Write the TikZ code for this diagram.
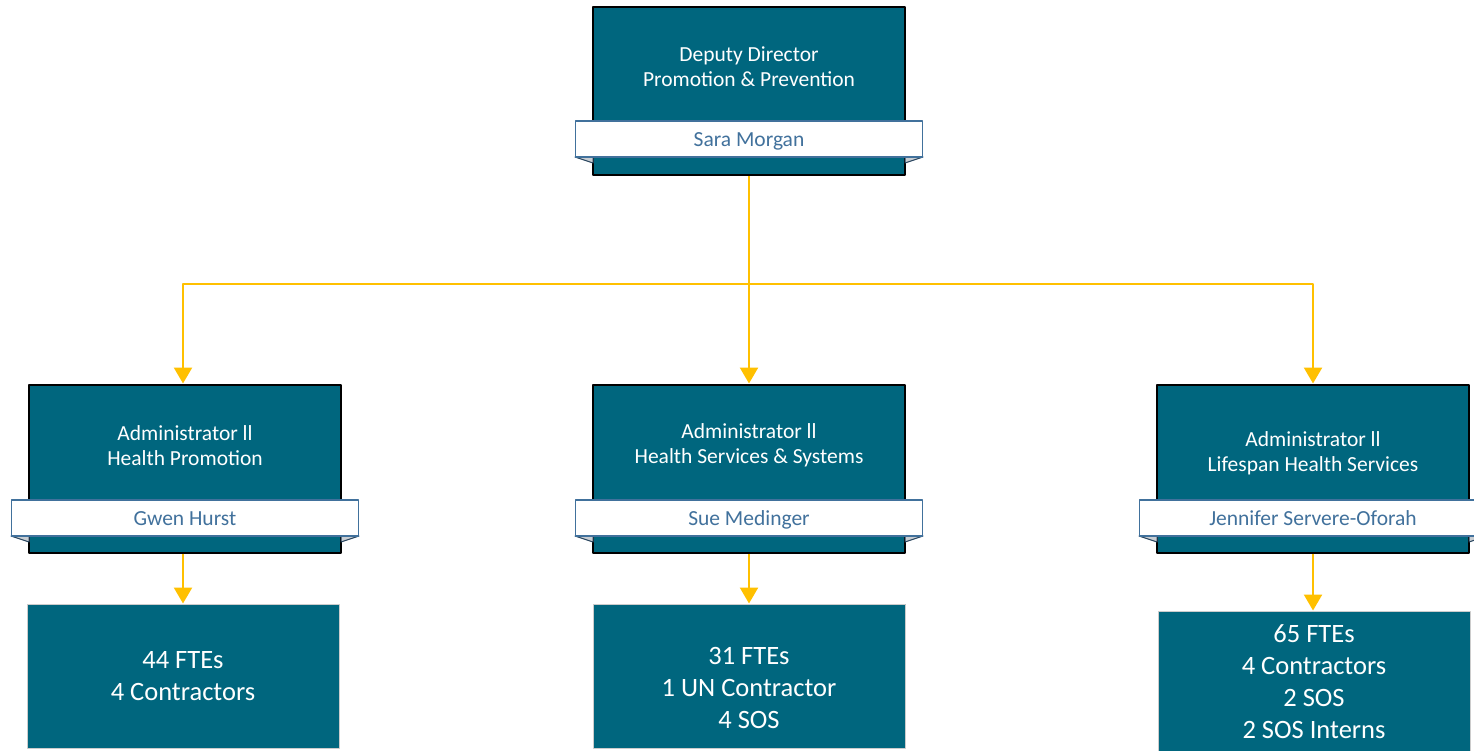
\documentclass[tikz,border=0pt]{standalone}
\usepackage{fontspec}
\setmainfont{Carlito}
\usetikzlibrary{arrows.meta}
\definecolor{teal}{HTML}{00667E}
\definecolor{gold}{HTML}{FFC000}
\definecolor{steel}{HTML}{41719C}
\definecolor{tailgray}{HTML}{C8CDD2}
\begin{document}
\begin{tikzpicture}[x=1pt, y=-1pt, line join=round,
	unit/.style={draw=black, line width=2pt, fill=teal, minimum width=312pt, minimum height=168pt, inner sep=0pt},
	staff/.style={draw=gray!40, line width=1pt, fill=teal, minimum width=312pt, minimum height=144pt, inner sep=0pt},
	roletext/.style={text=white, align=center, font=\fontsize{21.5}{25}\selectfont},
	counttext/.style={text=white, align=center, font=\fontsize{26.5}{32}\selectfont},
	namebar/.style={draw=steel, line width=1.5pt, fill=white, text=steel, minimum width=347pt, minimum height=36pt, inner sep=0pt, text height=18pt, text depth=4pt, font=\fontsize{21.5}{25}\selectfont},
	tail/.style={draw=steel!60!black, line width=1pt, fill=tailgray},
	link/.style={draw=gold, line width=2.4pt, -{Triangle[length=16pt,width=18pt]}}]
	\useasboundingbox (0,0) rectangle (1474,750);
	% boxes
	\node[unit] (dir) at (749,91) {};
	\node[unit] (hp) at (185,468.5) {};
	\node[unit] (hs) at (749,468.5) {};
	\node[unit] (ls) at (1313,468.5) {};
	\node[staff] (hpst) at (183,676) {};
	\node[staff] (hsst) at (749.5,676) {};
	\node[staff] (lsst) at (1314,683) {};
	% ribbon tails
	\draw[tail] (575,157)--(593,157)--(593,163)--cycle (923,157)--(905,157)--(905,163)--cycle;
	\draw[tail] (11,536)--(29,536)--(29,542)--cycle (359,536)--(341,536)--(341,542)--cycle;
	\draw[tail] (575,536)--(593,536)--(593,542)--cycle (923,536)--(905,536)--(905,542)--cycle;
	\draw[tail] (1139,536)--(1157,536)--(1157,542)--cycle (1487,536)--(1469,536)--(1469,542)--cycle;
	% titles and names
	\node[roletext] (dirt) at (749,67) {Deputy Director\\Promotion \& Prevention};
	\node[namebar] (dirn) at (749,139) {Sara Morgan};
	\node[roletext] (hpt) at (185,445.5) {Administrator ll\\Health Promotion};
	\node[namebar] (hpn) at (185,518) {Gwen Hurst};
	\node[roletext] (hst) at (749,445.5) {Administrator ll\\Health Services \& Systems};
	\node[namebar] (hsn) at (749,518) {Sue Medinger};
	\node[roletext] (lst) at (1313,453) {Administrator ll\\Lifespan Health Services};
	\node[namebar] (lsn) at (1313,518) {Jennifer Servere-Oforah};
	\node[counttext] (hpc) at (183,676) {44 FTEs\\4 Contractors};
	\node[counttext] (hsc) at (749,688) {31 FTEs\\1 UN Contractor\\4 SOS};
	\node[counttext] (lsc) at (1314,682) {65 FTEs\\4 Contractors\\2 SOS\\2 SOS Interns};
	% connectors
	\draw[link] (dir.south) -- ++(0,108) -| (hpst.north |- hp.north);
	\draw[link] (dir.south) -- (hs.north);
	\draw[link] (dir.south) -- ++(0,108) -| (ls.north);
	\draw[link] (hpst.north |- hp.south) -- (hpst.north);
	\draw[link] (hs.south) -- (hs.south |- hsst.north);
	\draw[link] (ls.south) -- (ls.south |- lsst.north);
\end{tikzpicture}
\end{document}
